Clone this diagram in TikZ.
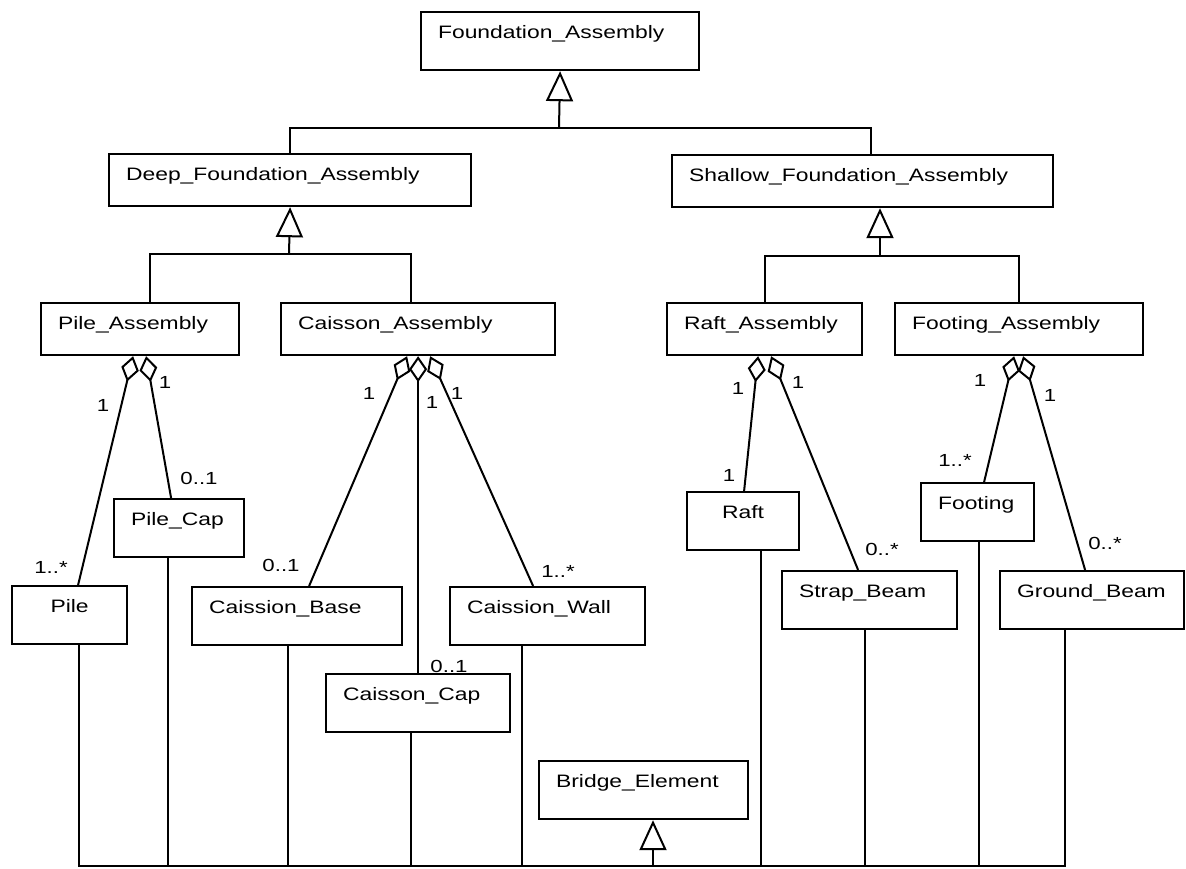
\documentclass[tikz,border=0pt]{standalone}
\usepackage{fontspec}
\setmainfont{Liberation Sans}[FakeStretch=1.27]
\usepackage{tikz}
\usetikzlibrary{arrows.meta}
\tikzstyle{cls} = [rectangle, draw=black, line width=2.2pt, anchor=north west, align=left, inner xsep=17pt, inner ysep=0pt, text height=26.5pt, text depth=31.5pt, font=\fontsize{18}{21}\selectfont]
\tikzstyle{acls} = [cls, text depth=25.5pt]
\tikzstyle{mult} = [inner sep=0pt, font=\fontsize{17.5}{20}\selectfont]
\tikzstyle{gen} = [line width=2pt, -{Triangle[open, length=30pt, width=27pt]}]
\tikzstyle{agg} = [line width=2pt, {Diamond[open, length=26pt, width=18pt]}-]
\tikzstyle{link} = [line width=2pt]

\begin{document}
\begin{tikzpicture}[x=1pt, y=-1pt]
    \useasboundingbox (0,0) rectangle (1186,869);
    % Class nodes
    \node (found) [cls, text width=244pt] at (420,11) {Foundation\_Assembly};
    \node (deep) [acls, text width=328pt] at (108,153) {Deep\_Foundation\_Assembly};
    \node (shallow) [acls, text width=347pt] at (671,154) {Shallow\_Foundation\_Assembly};
    \node (pileasm) [acls, text width=164pt] at (40,302) {Pile\_Assembly};
    \node (caisasm) [acls, text width=240pt] at (280,302) {Caisson\_Assembly};
    \node (raftasm) [acls, text width=161pt] at (666,302) {Raft\_Assembly};
    \node (footasm) [acls, text width=214pt] at (894,302) {Footing\_Assembly};
    \node (pilecap) [cls, text width=96pt] at (113,498) {Pile\_Cap};
    \node (pile) [cls, text width=81pt, align=center] at (11,585) {Pile};
    \node (base) [cls, text width=176pt] at (191,586) {Caission\_Base};
    \node (wall) [cls, text width=161pt] at (449,586) {Caission\_Wall};
    \node (cap) [cls, text width=150pt] at (325,673) {Caisson\_Cap};
    \node (bridge) [cls, text width=175pt] at (538,760) {Bridge\_Element};
    \node (raft) [cls, text width=78pt, align=center] at (686,491) {Raft};
    \node (strap) [cls, text width=141pt] at (781,570) {Strap\_Beam};
    \node (footing) [cls, text width=79pt] at (920,482) {Footing};
    \node (ground) [cls, text width=150pt] at (999,570) {Ground\_Beam};

    % Junctions
    \coordinate (j1) at (559,128);
    \coordinate (j2) at (289,254);
    \coordinate (j3) at (880,256);
    \coordinate (j4) at (653,866);

    % Generalisation
    \draw [gen] (j1) -- (found.south);
    \draw [link] (deep.north) |- (j1) -| ([xshift=8.5pt]shallow.north);
    \draw [gen] (j2) -- (deep.south);
    \draw [link] ([xshift=10pt]pileasm.north) |- (j2) -| ([xshift=-7pt]caisasm.north);
    \draw [gen] (j3) -- (j3 |- shallow.south);
    \draw [link] (raftasm.north) |- (j3) -| (footasm.north);
    \draw [gen] (j4) -- (j4 |- bridge.south);
    \draw [link] ([xshift=9.5pt]pile.south) |- (j4) -| ([xshift=-27pt]ground.south);
    \draw [link] ([xshift=-11pt]pilecap.south) -- ([xshift=-11pt]pilecap.south |- j4);
    \draw [link] ([xshift=-9pt]base.south) -- ([xshift=-9pt]base.south |- j4);
    \draw [link] ([xshift=-7pt]cap.south) -- ([xshift=-7pt]cap.south |- j4);
    \draw [link] ([xshift=-25.5pt]wall.south) -- ([xshift=-25.5pt]wall.south |- j4);
    \draw [link] ([xshift=18pt]raft.south) -- ([xshift=18pt]raft.south |- j4);
    \draw [link] ([xshift=-4.5pt]strap.south) -- ([xshift=-4.5pt]strap.south |- j4);
    \draw [link] ([xshift=1.5pt]footing.south) -- ([xshift=1.5pt]footing.south |- j4);

    % Aggregation
    \draw [agg] ([xshift=-7pt]pileasm.south) -- ([xshift=8.5pt]pile.north);
    \draw [agg] ([xshift=6pt]pileasm.south) -- ([xshift=-8pt]pilecap.north);
    \draw [agg] ([xshift=-11pt]caisasm.south) -- ([xshift=12pt]base.north);
    \draw [agg] (caisasm.south) -- (cap.north);
    \draw [agg] ([xshift=12pt]caisasm.south) -- ([xshift=-14.5pt]wall.north);
    \draw [agg] ([xshift=-6.5pt]raftasm.south) -- ([xshift=1pt]raft.north);
    \draw [agg] ([xshift=6.5pt]raftasm.south) -- ([xshift=-11.5pt]strap.north);
    \draw [agg] ([xshift=-5pt]footasm.south) -- ([xshift=6.5pt]footing.north);
    \draw [agg] ([xshift=4pt]footasm.south) -- ([xshift=-7pt]ground.north);

    % Multiplicities
    \node (pileone) [mult] at (103,405) {1};
    \node (capone) [mult] at (165,382) {1};
    \node (capmult) [mult] at (199,478) {0..1};
    \node (pilemult) [mult] at (51,567) {1..*};
    \node (baseone) [mult] at (369,393) {1};
    \node (ccapone) [mult] at (432,402) {1};
    \node (wallone) [mult] at (457,393) {1};
    \node (basemult) [mult] at (281,565) {0..1};
    \node (wallmult) [mult] at (558,571) {1..*};
    \node (ccapmult) [mult] at (449,666) {0..1};
    \node (raftone) [mult] at (738,388) {1};
    \node (strapone) [mult] at (798,382) {1};
    \node (raftmult) [mult] at (729,475) {1};
    \node (strapmult) [mult] at (882,549) {0..*};
    \node (footone) [mult] at (980,380) {1};
    \node (groundone) [mult] at (1050,395) {1};
    \node (footmult) [mult] at (955,460) {1..*};
    \node (groundmult) [mult] at (1105,543) {0..*};
\end{tikzpicture}
\end{document}
